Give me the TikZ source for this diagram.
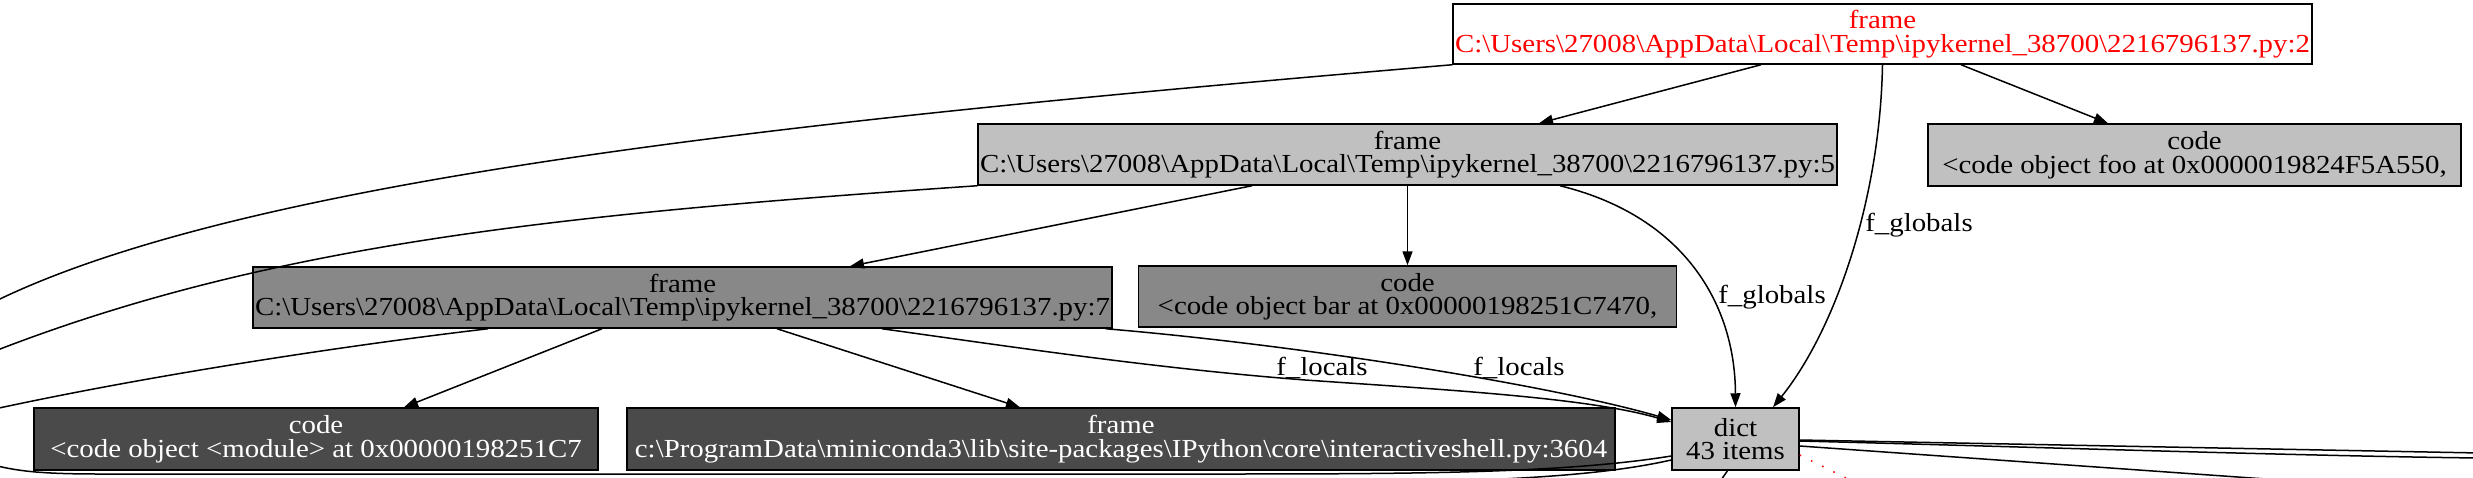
\documentclass[tikz,border=0pt]{standalone}
\usepackage{fontspec}
\setmainfont{Liberation Serif}[FakeStretch=1.11]
\usetikzlibrary{arrows.meta}
\definecolor{lgray}{HTML}{C0C0C0}
\definecolor{mgray}{HTML}{888888}
\definecolor{dgray}{HTML}{4A4A4A}
\newcommand{\bs}{\textbackslash}
\newcommand{\nodefont}{\fontsize{26}{23.5}\selectfont\lineskiplimit=-30pt\relax}
\begin{document}
\begin{tikzpicture}[x=1pt,y=-1pt,
  box/.style={draw=black,line width=1.5pt,inner sep=0pt,align=center,font=\nodefont},
  lbl/.style={font=\nodefont,inner sep=0pt},
  edge/.style={line width=1.5pt},
  arr/.style={edge,-{Triangle[length=14pt,width=10pt]}},
  reddot/.style={red,line width=1.5pt,dash pattern=on 1.5pt off 11pt}
  ]
\useasboundingbox (0,0) rectangle (2473,477);
\clip (0,0) rectangle (2473,477);

% nodes
\node[box,fill=white,text=red,minimum width=859pt,minimum height=60pt] (F2) at (1882.5,34)
  {frame\\C:\bs Users\bs 27008\bs AppData\bs Local\bs Temp\bs ipykernel\_38700\bs 2216796137.py:2};
\node[box,fill=lgray,minimum width=859pt,minimum height=61pt] (F5) at (1407.5,154.5)
  {frame\\C:\bs Users\bs 27008\bs AppData\bs Local\bs Temp\bs ipykernel\_38700\bs 2216796137.py:5};
\node[box,fill=lgray,minimum width=533pt,minimum height=62pt] (cfoo) at (2194.5,155)
  {code\\\textless code object foo at 0x0000019824F5A550,};
\node[box,fill=mgray,minimum width=859pt,minimum height=61pt] (F7) at (682.5,297.5)
  {frame\\C:\bs Users\bs 27008\bs AppData\bs Local\bs Temp\bs ipykernel\_38700\bs 2216796137.py:7};
\node[box,fill=mgray,minimum width=538pt,minimum height=61pt] (cbar) at (1407.5,296.5)
  {code\\\textless code object bar at 0x00000198251C7470,};
\node[box,fill=dgray,text=white,minimum width=564pt,minimum height=62pt] (cmod) at (316,439)
  {code\\\textless code object \textless module\textgreater\ at 0x00000198251C7};
\node[box,fill=dgray,text=white,minimum width=988pt,minimum height=62pt] (fis) at (1121,439)
  {frame\\c:\bs ProgramData\bs miniconda3\bs lib\bs site-packages\bs IPython\bs core\bs interactiveshell.py:3604};
\node[box,fill=lgray,minimum width=127pt,minimum height=62pt] (dict) at (1735.5,439)
  {dict\\43 items};

% free ends outside the picture
\coordinate (offL1) at (-40,320);
\coordinate (offL2) at (-40,365);
\coordinate (offL3) at (-10,410);
\coordinate (offL4) at (-10,464);
\coordinate (offB1) at (1300,484);
\coordinate (offB2) at (1721,480);
\coordinate (offR1) at (2480,453);
\coordinate (offR2) at (2480,458);
\coordinate (offR3) at (2280,480);
\coordinate (offR4) at (1850,480);

% edges
\draw[arr] ([xshift=-121.5pt]F2.south) -- ([xshift=131.5pt]F5.north);
\draw[arr] ([xshift=78.5pt]F2.south) -- ([xshift=-86.5pt]cfoo.north);
\draw[arr] (F2.south) .. controls (1880,200) and (1835,330) .. ([xshift=37.5pt]dict.north);
\draw[edge] (F2.south west) .. controls (800,120) and (200,180) .. (offL1);

\draw[arr] ([xshift=-155.5pt]F5.south) -- ([xshift=167.5pt]F7.north);
\draw[arr] (F5.south) -- (cbar.north);
\draw[arr] ([xshift=152.5pt]F5.south) .. controls (1680,215) and (1735,300) .. (dict.north);
\draw[edge] (F5.south west) .. controls (550,215) and (250,245) .. (offL2);

\draw[arr] ([xshift=-80.5pt]F7.south) -- ([xshift=88pt]cmod.north);
\draw[arr] ([xshift=94.5pt]F7.south) -- ([xshift=-101pt]fis.north);
\draw[arr] ([xshift=199.5pt]F7.south) .. controls (1000,345) and (1150,368) .. (1305,380)
   .. controls (1450,390) and (1590,398) .. ([yshift=17pt]dict.west);
\draw[arr] ([xshift=-7pt]F7.south east) .. controls (1300,345) and (1550,385) .. ([yshift=19pt]dict.west);
\draw[edge] ([xshift=-194.5pt]F7.south) .. controls (350,345) and (150,375) .. (offL3);

\draw[edge] ([yshift=-17pt]dict.west) .. controls (1560,474) and (1400,474) .. (1200,474)
   -- (100,474) .. controls (40,474) and (15,471) .. (offL4);
\draw[edge] ([yshift=-21pt]dict.west) .. controls (1600,476) and (1500,482) .. (offB1);
\draw[edge] ([xshift=-8pt]dict.south) -- (offB2);
\draw[edge] ([yshift=-1pt]dict.east) -- (offR1);
\draw[edge] ([yshift=-2pt]dict.east) .. controls (2000,446) and (2300,456) .. (offR2);
\draw[edge] ([yshift=-7pt]dict.east) -- (offR3);
\draw[reddot] ([yshift=-16pt]dict.east) -- (offR4);

% labels
\node[lbl] (lg1) at (1919,225) {f\_globals};
\node[lbl] (lg2) at (1772,297) {f\_globals};
\node[lbl] (ll1) at (1322,368) {f\_locals};
\node[lbl] (ll2) at (1519,368) {f\_locals};
\end{tikzpicture}
\end{document}
